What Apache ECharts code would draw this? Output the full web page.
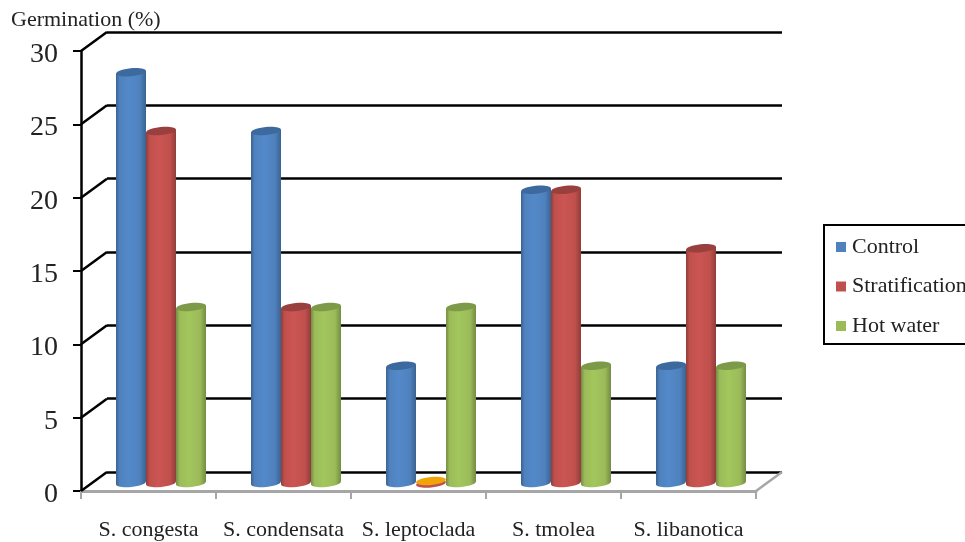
<!DOCTYPE html>
<html>
<head>
<meta charset="utf-8">
<style>html,body{margin:0;padding:0;background:#fff;overflow:hidden}#c{width:965px;height:542px}</style>
<script src="https://cdn.jsdelivr.net/npm/echarts@6/dist/echarts.min.js"></script>
</head>
<body>
<div id="c"></div>
<script>
// Germination of Salvia species under three seed treatments
const categories = ['S. congesta', 'S. condensata', 'S. leptoclada', 'S. tmolea', 'S. libanotica'];
const control = [28, 24, 8, 20, 8];
const stratification = [24, 12, 0, 20, 16];
const hotWater = [12, 12, 12, 8, 8];
const yTicks = [0, 5, 10, 15, 20, 25, 30];

const SERIF = '"Liberation Serif", "Times New Roman", serif';
const DEPTH_X = 26, DEPTH_Y = 19;        // box depth of the pseudo-3D plot
const MID_X = 12.5, MID_Y = 8;           // plane the cylinders stand on
const TILT = 0.1;                        // slant of the elliptical caps

const palette = [
  { base: '#4F81BD', light: '#5389CA', edge: '#3A6391', cap: '#3D6A9E' },
  { base: '#C0504D', light: '#CB5552', edge: '#8F3D3A', cap: '#993F3D' },
  { base: '#9BBB59', light: '#A3C65D', edge: '#748C44', cap: '#7C9A47' }
];

const chart = echarts.init(document.getElementById('c'), null, { renderer: 'canvas' });

function cylinder(seriesIdx) {
  const p = palette[seriesIdx];
  return function (params, api) {
    const band = api.size([1, 0])[0];
    const w = band * 30 / 135, rx = w / 2, ry = 4;
    const pt = api.coord([api.value(0), api.value(1)]);
    const foot = api.coord([api.value(0), 0]);
    const cx = pt[0] + MID_X + (seriesIdx - 1) * w;
    const top = pt[1] - MID_Y, base = foot[1] - MID_Y;
    const slant = rx * Math.sin(TILT);
    const fill = new echarts.graphic.LinearGradient(0, 0, 1, 0, [
      { offset: 0, color: p.edge },
      { offset: 0.12, color: p.base },
      { offset: 0.42, color: p.light },
      { offset: 0.8, color: p.base },
      { offset: 1, color: p.edge }
    ]);
    const ellipse = (y, color) => ({
      type: 'ellipse',
      shape: { cx: 0, cy: 0, rx: rx, ry: ry },
      x: cx, y: y, rotation: TILT,
      style: { fill: color }
    });
    if (api.value(1) === 0) {
      // An empty bar collapses to a flat disc
      return {
        type: 'group',
        children: [ellipse(base + 0.5, p.base), ellipse(base - 2, '#F0A40A')]
      };
    }
    return {
      type: 'group',
      children: [
        ellipse(base, fill),
        {
          type: 'polygon',
          shape: { points: [
            [cx - rx, top + slant], [cx + rx, top - slant],
            [cx + rx, base - slant], [cx - rx, base + slant]
          ] },
          style: { fill: fill }
        },
        ellipse(top, p.cap)
      ]
    };
  };
}

function barSeries(name, values, idx) {
  return {
    name: name,
    type: 'custom',
    xAxisIndex: 0,
    yAxisIndex: 0,
    clip: false,
    z: 5,
    itemStyle: { color: palette[idx].base },
    encode: { x: 0, y: 1 },
    data: values.map((v, i) => [i, v]),
    renderItem: cylinder(idx)
  };
}

option = {
  animation: false,
  backgroundColor: '#fff',
  title: {
    text: 'Germination (%)',
    left: 6, top: 4,
    textStyle: { fontFamily: SERIF, fontSize: 22, fontWeight: 'normal', color: '#222' }
  },
  legend: {
    orient: 'vertical',
    left: 824, top: 225,
    padding: [11, 40, 7, 12],
    icon: 'rect',
    itemWidth: 10, itemHeight: 10,
    itemGap: 17.5,
    backgroundColor: '#fff',
    borderColor: '#000',
    borderWidth: 2,
    textStyle: { fontFamily: SERIF, fontSize: 22, color: '#222', padding: [0, 0, 0, 1] },
    data: ['Control', 'Stratification', 'Hot water']
  },
  grid: [
    { left: 81, top: 51, width: 675, height: 440 },   // front plane
    { left: 81 + DEPTH_X, top: 51 - DEPTH_Y, width: 675, height: 440 }  // back wall
  ],
  xAxis: [
    {
      type: 'category', gridIndex: 0, data: categories,
      axisLine: { lineStyle: { color: '#A6A6A6', width: 3 } },
      axisTick: { show: true, alignWithLabel: false, length: 8, lineStyle: { color: '#A6A6A6', width: 2 } },
      axisLabel: { fontFamily: SERIF, fontSize: 22, color: '#222', margin: 28, interval: 0 }
    },
    {
      type: 'category', gridIndex: 1, data: categories, show: false
    }
  ],
  yAxis: [
    {
      type: 'value', gridIndex: 0, min: 0, max: 30, interval: 5,
      axisLine: { show: true, lineStyle: { color: '#000', width: 2.5 } },
      axisTick: { show: true, length: 8, lineStyle: { color: '#000', width: 2 } },
      axisLabel: { fontFamily: SERIF, fontSize: 28, color: '#222', margin: 23, verticalAlign: 'top', lineHeight: 7 },
      splitLine: { show: false }
    },
    {
      type: 'value', gridIndex: 1, min: 0, max: 30, interval: 5,
      axisLine: { show: false }, axisTick: { show: false }, axisLabel: { show: false },
      splitLine: { show: true, lineStyle: { color: '#000', width: 2.5 } }
    }
  ],
  series: [
    {
      // Side-wall segments joining front ticks to the back-wall gridlines
      type: 'custom', xAxisIndex: 0, yAxisIndex: 0, clip: false, z: 1, silent: true,
      encode: { y: 0 },
      data: yTicks.map(v => [v]),
      renderItem: function (params, api) {
        const y = api.coord([0, api.value(0)])[1];
        const x = params.coordSys.x;
        return {
          type: 'line',
          shape: { x1: x, y1: y, x2: x + DEPTH_X, y2: y - DEPTH_Y },
          style: { stroke: '#000', lineWidth: 2.5 }
        };
      }
    },
    {
      // Right-hand edge of the floor
      type: 'custom', xAxisIndex: 0, yAxisIndex: 0, clip: false, z: 1, silent: true,
      encode: { y: 0 },
      data: [[0]],
      renderItem: function (params, api) {
        const y = api.coord([0, api.value(0)])[1];
        const x = params.coordSys.x + params.coordSys.width;
        return {
          type: 'line',
          shape: { x1: x, y1: y, x2: x + DEPTH_X, y2: y - DEPTH_Y },
          style: { stroke: '#A6A6A6', lineWidth: 2.5 }
        };
      }
    },
    barSeries('Control', control, 0),
    barSeries('Stratification', stratification, 1),
    barSeries('Hot water', hotWater, 2)
  ]
};
chart.setOption(option);
</script>
</body>
</html>
